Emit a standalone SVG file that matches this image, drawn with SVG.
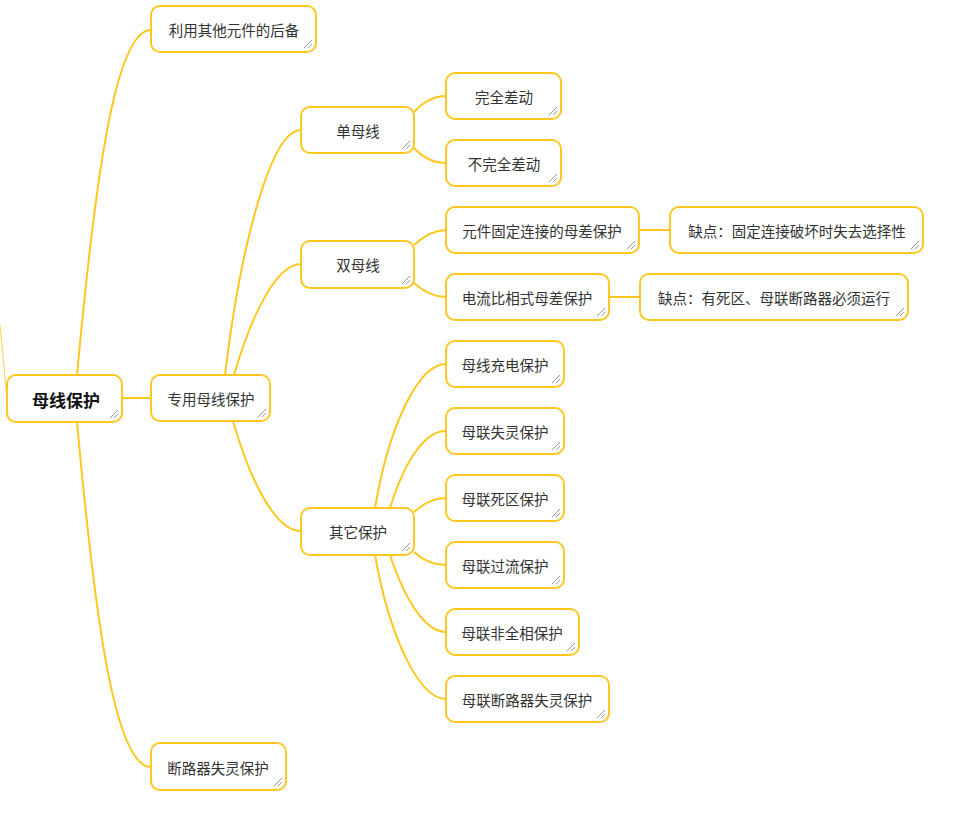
<svg xmlns="http://www.w3.org/2000/svg" xmlns:xlink="http://www.w3.org/1999/xlink" width="972" height="813" viewBox="0 0 972 813">
<style>
.box{fill:#fff;stroke:#FFC720;stroke-width:2}
.t{font-family:"Noto Sans CJK SC","Noto Sans",sans-serif;font-size:14.5px;fill:#333;text-anchor:middle;dominant-baseline:central}
.root{font-size:17px;font-weight:bold;fill:#111}
.c{fill:none;stroke:#FFC720;stroke-width:2}
.g{stroke:#999;stroke-width:1}
</style>
<defs>
<g id="grip"><line class="g" x1="-12" y1="-4" x2="-4" y2="-12"/><line class="g" x1="-8" y1="-4" x2="-4" y2="-8"/></g>
</defs>
<rect width="972" height="813" fill="#fff"/>
<g id="connectors">
<path d="M0,325 C3,355 5,380 7,398" fill="none" stroke="#FFD966" stroke-width="1.2"/>
<path class="c" d="M77,375 C95,180 115,30 151,30"/>
<path class="c" d="M77,422 C95,620 115,767 151,767"/>
<path class="c" d="M122,398 L151,398"/>
<path class="c" d="M225,375 C240,250 270,130 301,130"/>
<path class="c" d="M234,375 C250,320 275,264 301,264"/>
<path class="c" d="M233,421 C250,480 275,531 301,531"/>
<path class="c" d="M414,112 C425,100 435,96 446,96"/>
<path class="c" d="M414,148 C425,160 435,163 446,163"/>
<path class="c" d="M414,245 C425,235 435,230 446,230"/>
<path class="c" d="M414,283 C425,293 435,297 446,297"/>
<path class="c" d="M639,230 L670,230"/>
<path class="c" d="M609,297 L640,297"/>
<path class="c" d="M375,508 C390,420 420,364 446,364"/>
<path class="c" d="M390,508 C405,460 425,431 446,431"/>
<path class="c" d="M414,512 C425,502 435,498 446,498"/>
<path class="c" d="M414,552 C425,562 435,565 446,565"/>
<path class="c" d="M390,555 C405,600 425,632 446,632"/>
<path class="c" d="M375,555 C390,640 420,699 446,699"/>
</g>
<g id="n-root"><rect class="box" x="7" y="375" width="115" height="47" rx="9"/><text class="t root" x="66" y="399">母线保护</text><use xlink:href="#grip" x="122" y="422"/></g>
<g id="n-houbei"><rect class="box" x="151" y="6" width="165" height="46" rx="9"/><text class="t" x="234" y="29">利用其他元件的后备</text><use xlink:href="#grip" x="316" y="52"/></g>
<g id="n-zhuanyong"><rect class="box" x="151" y="375" width="119" height="46" rx="9"/><text class="t" x="211" y="398">专用母线保护</text><use xlink:href="#grip" x="270" y="421"/></g>
<g id="n-dlqsl"><rect class="box" x="151" y="743" width="135" height="47" rx="9"/><text class="t" x="218" y="767">断路器失灵保护</text><use xlink:href="#grip" x="286" y="790"/></g>
<g id="n-dan"><rect class="box" x="301" y="107" width="113" height="46" rx="9"/><text class="t" x="358" y="130">单母线</text><use xlink:href="#grip" x="414" y="153"/></g>
<g id="n-shuang"><rect class="box" x="301" y="241" width="113" height="47" rx="9"/><text class="t" x="358" y="264">双母线</text><use xlink:href="#grip" x="414" y="288"/></g>
<g id="n-qita"><rect class="box" x="301" y="508" width="113" height="47" rx="9"/><text class="t" x="358" y="531">其它保护</text><use xlink:href="#grip" x="414" y="555"/></g>
<g id="n-wq"><rect class="box" x="446" y="73" width="115" height="46" rx="9"/><text class="t" x="504" y="96">完全差动</text><use xlink:href="#grip" x="561" y="119"/></g>
<g id="n-bwq"><rect class="box" x="446" y="140" width="115" height="46" rx="9"/><text class="t" x="504" y="163">不完全差动</text><use xlink:href="#grip" x="561" y="186"/></g>
<g id="n-gd"><rect class="box" x="446" y="207" width="193" height="46" rx="9"/><text class="t" x="542" y="230">元件固定连接的母差保护</text><use xlink:href="#grip" x="639" y="253"/></g>
<g id="n-bx"><rect class="box" x="446" y="274" width="163" height="46" rx="9"/><text class="t" x="527" y="297">电流比相式母差保护</text><use xlink:href="#grip" x="609" y="320"/></g>
<g id="n-qd1"><rect class="box" x="670" y="207" width="253" height="46" rx="9"/><text class="t" x="797" y="230">缺点：固定连接破坏时失去选择性</text><use xlink:href="#grip" x="923" y="253"/></g>
<g id="n-qd2"><rect class="box" x="640" y="274" width="268" height="46" rx="9"/><text class="t" x="774" y="297">缺点：有死区、母联断路器必须运行</text><use xlink:href="#grip" x="908" y="320"/></g>
<g id="n-cd"><rect class="box" x="446" y="341" width="118" height="46" rx="9"/><text class="t" x="505" y="364">母线充电保护</text><use xlink:href="#grip" x="564" y="387"/></g>
<g id="n-sl"><rect class="box" x="446" y="408" width="118" height="46" rx="9"/><text class="t" x="505" y="431">母联失灵保护</text><use xlink:href="#grip" x="564" y="454"/></g>
<g id="n-sq"><rect class="box" x="446" y="475" width="118" height="46" rx="9"/><text class="t" x="505" y="498">母联死区保护</text><use xlink:href="#grip" x="564" y="521"/></g>
<g id="n-gl"><rect class="box" x="446" y="542" width="118" height="46" rx="9"/><text class="t" x="505" y="565">母联过流保护</text><use xlink:href="#grip" x="564" y="588"/></g>
<g id="n-fqx"><rect class="box" x="446" y="609" width="133" height="46" rx="9"/><text class="t" x="512" y="632">母联非全相保护</text><use xlink:href="#grip" x="579" y="655"/></g>
<g id="n-dlsl"><rect class="box" x="446" y="676" width="163" height="46" rx="9"/><text class="t" x="527" y="699">母联断路器失灵保护</text><use xlink:href="#grip" x="609" y="722"/></g>
</svg>
